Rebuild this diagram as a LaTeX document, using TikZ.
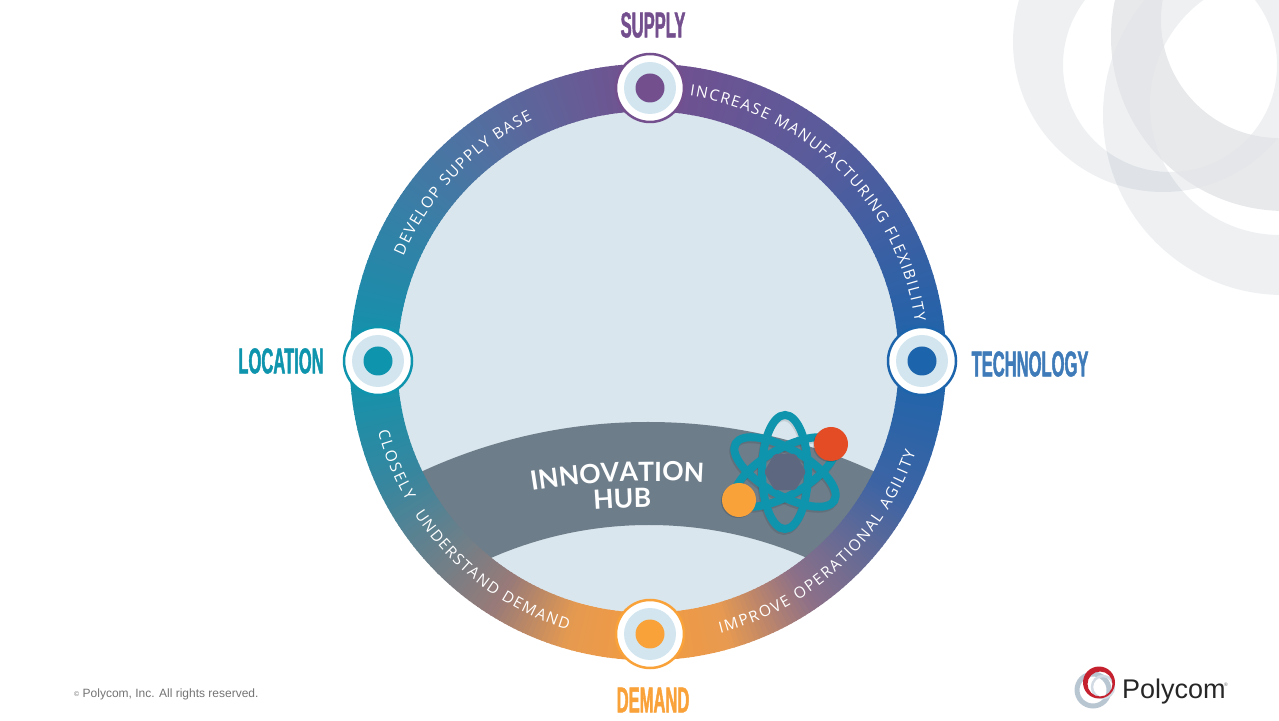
\documentclass[tikz,border=0pt]{standalone}
\usepackage{fontspec}
\usepackage{xcolor}
\usetikzlibrary{decorations.text,shapes.geometric}
\setmainfont{Liberation Sans}
\newfontfamily\ringfont{Open Sans}
\newfontfamily\hubfont{Lato}
\newfontfamily\capfont[FakeStretch=0.46,FakeBold=1.2]{Liberation Sans}

\definecolor{supplycol}{HTML}{744F8E}
\definecolor{techcol}{HTML}{1C64AB}
\definecolor{loccol}{HTML}{0E94AD}
\definecolor{demandcol}{HTML}{F9A23A}
\definecolor{ringbottom}{HTML}{F39B40}
\definecolor{midright}{HTML}{5A5B9B}
\definecolor{midleft}{HTML}{4F72A2}
\definecolor{lowright}{HTML}{8D7088}
\definecolor{lowleft}{HTML}{987A78}
\definecolor{nearright}{HTML}{E89A50}
\definecolor{nearleft}{HTML}{E69A50}
\definecolor{techlow}{HTML}{3D64A4}
\definecolor{loclow}{HTML}{37869F}
\definecolor{diskcol}{HTML}{DAE6ED}
\definecolor{holecol}{HTML}{D3E6F0}
\definecolor{bandcol}{HTML}{6D7D8A}
\definecolor{corecol}{HTML}{5D6880}
\definecolor{redcol}{HTML}{E44C26}
\definecolor{ghostcol}{RGB}{42,67,92}
\definecolor{ghostdark}{HTML}{E3E5E7}
\definecolor{logored}{HTML}{C4202E}
\definecolor{logogrey}{HTML}{B8C6D2}
\definecolor{logopale}{HTML}{D2DBE3}

\tikzset{
  ringseg/.style={line width=47.5pt},
  ringlabel/.style={decorate, decoration={text along path, text align=fit to path,
    text={|\ringfont\fontsize{15.5}{16}\selectfont\color{white}|#1}}},
  pinbase/.style={circle, fill=white, draw=#1, line width=2.5pt, minimum size=68pt, inner sep=0pt},
  pinhole/.style={circle, fill=holecol, minimum size=52pt, inner sep=0pt},
  pindot/.style={circle, fill=#1, minimum size=29pt, inner sep=0pt},
  caplabel/.style={font=\capfont\bfseries\fontsize{36}{36}\selectfont, text=#1, inner sep=0pt},
  ghost/.style={fill=ghostcol, opacity=0.08, even odd rule},
  atomline/.style={draw=loccol, line width=8pt},
  hubtext/.style={decorate, decoration={text along path, text align=center,
    text={|\hubfont\bfseries\fontsize{26.5}{27}\selectfont\color{white}|#1}}},
}

\begin{document}
\begin{tikzpicture}[x=1pt,y=1pt]
  \useasboundingbox (0,0) rectangle (1279,720);

  % corner swirls
  \begin{scope}
    \clip (0,0) rectangle (1279,720);
    \path[ghost] (1163,678) circle (150pt) (1170,655) circle (107pt);
    \path[ghost] (1283,605) circle (180pt) (1280,615) circle (130pt);
    \path[fill=ghostdark, opacity=0.85, even odd rule] (1285,683) circle (174pt) (1279,700) circle (118pt);
  \end{scope}

  % inner disc and band
  \fill[diskcol] (648,358) circle (252pt);
  \begin{scope}
    \clip (648,358) circle (252pt);
    \fill[bandcol, even odd rule] (648,-242) circle (540pt) (649,-199) circle (394pt);
  \end{scope}

  % ring colours
  \begin{scope}[shift={(648,358)}]
    \foreach \angA/\angB/\colA/\colB in {
      90/52/supplycol/midright, 52/0/midright/techcol, 0/-28/techcol/techlow,
      -28/-56/techlow/lowright, -56/-74/lowright/nearright, -74/-90/nearright/ringbottom,
      90/130/supplycol/midleft, 130/180/midleft/loccol, 180/205/loccol/loclow,
      205/238/loclow/lowleft, 238/254/lowleft/nearleft, 254/270/nearleft/ringbottom} {
      \pgfmathtruncatemacro{\nseg}{abs(\angB-\angA)}
      \foreach \k in {1,...,\nseg} {
        \pgfmathsetmacro{\angS}{\angA+(\k-1)*(\angB-\angA)/\nseg}
        \pgfmathsetmacro{\angE}{\angA+\k*(\angB-\angA)/\nseg+0.3*(\angB-\angA)/abs(\angB-\angA)}
        \pgfmathsetmacro{\mixp}{100-100*(\k-0.5)/\nseg}
        \draw[ringseg, color=\colA!\mixp!\colB] (\angS:274.5pt) arc (\angS:\angE:274.5pt);
      }
    }
  \end{scope}
  \begin{scope}[shift={(650,359)}]
    \path[ringlabel={INCREASE MANUFACTURING FLEXIBILITY}] (81.5:268pt) arc (81.5:8.5:268pt);
    \path[ringlabel={DEVELOP SUPPLY BASE}] (157:268pt) arc (157:116:268pt);
    \path[ringlabel={CLOSELY}] (194.5:281pt) arc (194.5:210:281pt);
    \path[ringlabel={UNDERSTAND DEMAND}] (213:281pt) arc (213:253:281pt);
    \path[ringlabel={IMPROVE OPERATIONAL AGILITY}] (-75.5:281pt) arc (-75.5:-19:281pt);
  \end{scope}

  % pins
  \foreach \pinname/\px/\py/\pcol in {pinsupply/650/632/supplycol, pintech/922/359/techcol,
    pinloc/378/359/loccol, pindemand/650/86/demandcol} {
    \node[pinbase=\pcol] (\pinname) at (\px,\py) {};
    \node[pinhole] at (\pinname) {};
    \node[pindot=\pcol] at (\pinname) {};
  }

  \node[caplabel=supplycol] (supply) at (653,695) {SUPPLY};
  \node[caplabel=techcol!85!white] (tech) at (1030,356) {TECHNOLOGY};
  \node[caplabel=loccol] (loc) at (281,359) {LOCATION};
  \node[caplabel=demandcol] (demand) at (653,20) {DEMAND};

  % hub text
  \path[hubtext={INNOVATION}] ([shift={(655,-541)}]99.2:780pt) arc (99.2:86.3:780pt);
  \path[hubtext={HUB}] ([shift={(655,-595)}]94.4:808pt) arc (94.4:90.2:808pt);

  % atom
  \coordinate (atom) at (785,248);
  \foreach \ang in {0,60,120} {
    \draw[black, opacity=0.1, line width=8pt, rotate around={\ang:(784,246)}] (784,246) ellipse (23pt and 57pt);
  }
  \foreach \ang in {0,60,120} {
    \draw[atomline, rotate around={\ang:(atom)}] (atom) ellipse (23pt and 57pt);
  }
  \node[regular polygon, regular polygon sides=6, fill=corecol, minimum size=42pt, inner sep=0pt,
    rounded corners=2pt] (core) at (atom) {};
  \fill[black, opacity=0.15] (830,275) circle (17pt);
  \node[circle, fill=redcol, minimum size=34pt, inner sep=0pt] (redball) at (831,276) {};
  \fill[black, opacity=0.15] (738,219) circle (17pt);
  \node[circle, fill=demandcol, minimum size=34pt, inner sep=0pt] (orangeball) at (739,220) {};

  % footer
  \node[anchor=west, inner sep=0pt, text=black!55, font=\fontsize{12}{12}\selectfont] (copy) at (74,25.5)
    {\raisebox{1.5pt}{\fontsize{7}{7}\selectfont\textcopyright} Polycom, Inc. All rights reserved.};

  % logo
  \draw[logogrey, line width=5pt] (1093,30) circle (16pt);
  \draw[logopale, line width=2.5pt] (1103,33) circle (11pt);
  \fill[logored, even odd rule] (1099,37.5) circle (16pt) (1100,36) circle (12.5pt);
  \node[anchor=base west, inner sep=0pt, text=black!85, font=\fontsize{27}{27}\selectfont] (polycom) at (1122,22) {Polycom};
  \node[anchor=center, inner sep=0pt, text=black!60, font=\fontsize{5}{5}\selectfont] (regmark) at (1226,35) {\textregistered};
\end{tikzpicture}
\end{document}
